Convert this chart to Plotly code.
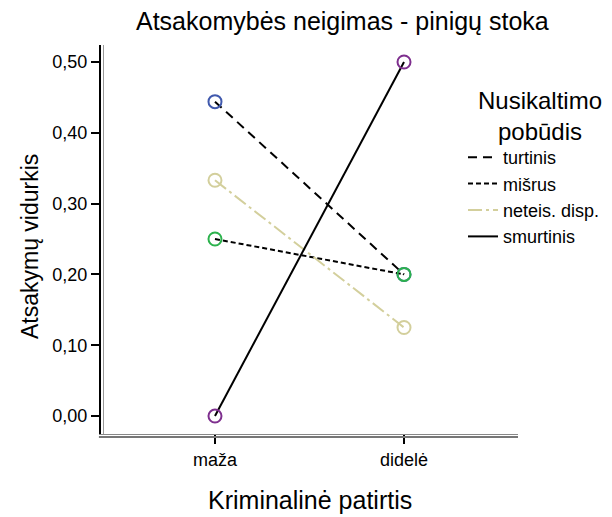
import plotly.graph_objects as go

# data
categories = ["maža", "didelė"]
series_names = ["turtinis", "mišrus", "neteis. disp.", "smurtinis"]
turtinis = [0.444, 0.200]
misrus = [0.250, 0.200]
neteis = [0.333, 0.125]
smurtinis = [0.000, 0.500]
y_ticks = [0.0, 0.1, 0.2, 0.3, 0.4, 0.5]
y_tick_labels = ["0,00", "0,10", "0,20", "0,30", "0,40", "0,50"]

values = [turtinis, misrus, neteis, smurtinis]
line_colors = ["black", "black", "#d3cf9c", "black"]
dashes = ["9px,6px", "5px,3px", "14px,4px,3px,4px", "solid"]
marker_colors = ["#4059ad", "#2bb24c", "#d3cf9c", "#7e2f8e"]

FONT = "Liberation Sans, Arial, sans-serif"

# the page body adds an 8px margin, so positions below are reference pixels minus 8
OFF = 8
W, H = 612, 517
L, R, T, B = 101 - OFF, 518 - OFF, 45 - OFF, 434 - OFF
pw, ph = R - L, B - T

def px_x(x):
    return (x - OFF - L) / pw

def px_y(y):
    return (B - (y - OFF)) / ph

fig = go.Figure()
xs = [0, 1]
for name, vals, lc, dash, mc in zip(series_names, values, line_colors, dashes, marker_colors):
    # line part (shown in legend)
    fig.add_trace(go.Scatter(x=xs, y=vals, mode="lines", name=name,
                             line=dict(color=lc, width=2, dash=dash)))
    # open circle markers
    fig.add_trace(go.Scatter(x=xs, y=vals, mode="markers", showlegend=False,
                             marker=dict(symbol="circle-open", size=13,
                                         color=mc, line=dict(width=2, color=mc))))

fig.update_xaxes(range=[-0.603, 1.603], tickvals=xs, ticktext=categories,
                 showgrid=False, zeroline=False, showline=True, linecolor="#888888",
                 linewidth=1, ticks="outside", ticklen=9, tickwidth=2, tickcolor="black",
                 tickfont=dict(size=18, color="black"), automargin=False)
fig.update_yaxes(range=[-0.0254, 0.524], tickvals=y_ticks, ticktext=y_tick_labels,
                 showgrid=False, zeroline=False, showline=True, linecolor="black",
                 linewidth=2, ticks="outside", ticklen=8, tickwidth=2, tickcolor="black",
                 tickfont=dict(size=18, color="black"), automargin=False)

# extra gray lines for the double-axis look
fig.add_shape(type="line", xref="paper", yref="paper", x0=0.006, x1=0.006, y0=0, y1=1,
              line=dict(color="#999999", width=1))
fig.add_shape(type="line", xref="paper", yref="paper", x0=-0.005, x1=1, y0=-3 / ph, y1=-3 / ph,
              line=dict(color="#777777", width=2))

# titles as annotations
fig.add_annotation(text="Atsakomybės neigimas - pinigų stoka", xref="paper", yref="paper",
                   x=px_x(342), y=px_y(21), showarrow=False, xanchor="center", yanchor="middle",
                   font=dict(size=25, color="black"))
fig.add_annotation(text="Atsakymų vidurkis", xref="paper", yref="paper", textangle=-90,
                   x=px_x(30), y=px_y(247), showarrow=False, xanchor="center", yanchor="middle",
                   font=dict(size=23, color="black"))
fig.add_annotation(text="Kriminalinė patirtis", xref="paper", yref="paper",
                   x=px_x(310), y=px_y(500), showarrow=False, xanchor="center", yanchor="middle",
                   font=dict(size=25, color="black"))
fig.add_annotation(text="Nusikaltimo<br>pobūdis", xref="paper", yref="paper",
                   x=px_x(540), y=px_y(116), showarrow=False, xanchor="center", yanchor="middle",
                   align="center", font=dict(size=24, color="black"))

fig.update_layout(
    width=W, height=H,
    margin=dict(l=L, r=W - R, t=T, b=H - B),
    paper_bgcolor="white", plot_bgcolor="white",
    font=dict(family=FONT, color="black"),
    legend=dict(x=px_x(463), xanchor="left", y=px_y(139), yanchor="top",
                bgcolor="rgba(0,0,0,0)", font=dict(size=18, color="black"),
                itemwidth=30, tracegroupgap=0),
)

fig.write_html("out.html")
